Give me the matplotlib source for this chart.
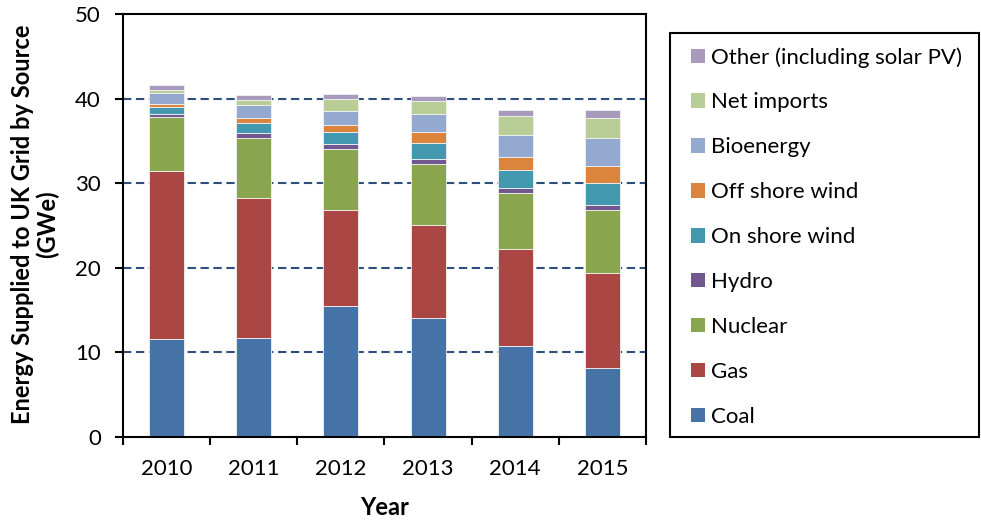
"""Stacked bar chart of UK grid supply by source, 2010-2015."""

import matplotlib.pyplot as plt
import numpy as np
from matplotlib.patches import Patch, Rectangle


YEARS = ["2010", "2011", "2012", "2013", "2014", "2015"]

COAL = [11.6, 11.7, 15.5, 14.1, 10.8, 8.2]
GAS = [19.8, 16.5, 11.3, 10.9, 11.4, 11.2]
NUCLEAR = [6.4, 7.1, 7.3, 7.3, 6.6, 7.4]
HYDRO = [0.4, 0.6, 0.55, 0.55, 0.65, 0.65]
ON_SHORE_WIND = [0.8, 1.2, 1.4, 1.9, 2.1, 2.6]
OFF_SHORE_WIND = [0.35, 0.6, 0.85, 1.3, 1.5, 2.0]
BIOENERGY = [1.3, 1.5, 1.6, 2.1, 2.6, 3.25]
NET_IMPORTS = [0.35, 0.65, 1.4, 1.6, 2.3, 2.35]
OTHER = [0.6, 0.55, 0.65, 0.6, 0.75, 1.05]

SERIES = (
    ("Coal", COAL, "#4572A7"),
    ("Gas", GAS, "#AA4643"),
    ("Nuclear", NUCLEAR, "#89A54E"),
    ("Hydro", HYDRO, "#71588F"),
    ("On shore wind", ON_SHORE_WIND, "#4198AF"),
    ("Off shore wind", OFF_SHORE_WIND, "#DB843D"),
    ("Bioenergy", BIOENERGY, "#93A9CF"),
    ("Net imports", NET_IMPORTS, "#B9CD96"),
    ("Other (including solar PV)", OTHER, "#A99BBD"),
)

WIDTH, HEIGHT = 981, 521


def main() -> None:
    plt.rcParams.update({"font.family": ["Lato", "DejaVu Sans"], "font.size": 16})
    figure = plt.figure(figsize=(WIDTH / 100, HEIGHT / 100), dpi=100)
    axis = figure.add_axes(
        (123 / WIDTH, 1 - 437 / HEIGHT, (646 - 123) / WIDTH, (437 - 14) / HEIGHT)
    )

    positions = np.arange(len(YEARS))
    bottom = np.zeros(len(YEARS))
    handles = []
    for label, values, color in SERIES:
        axis.bar(
            positions,
            values,
            width=0.4,
            bottom=bottom,
            color=color,
            edgecolor="#f2f2f2",
            linewidth=0.6,
            zorder=3,
        )
        bottom += np.array(values)
        handles.append(Patch(facecolor=color, label=label))

    axis.set_xlim(-0.5, len(YEARS) - 0.5)
    axis.set_ylim(0, 50)
    axis.set_yticks(range(0, 51, 10))
    axis.set_xticks(positions, YEARS)
    axis.set_xticks(np.arange(-0.5, len(YEARS)), minor=True)
    axis.tick_params(axis="x", which="major", length=0, pad=16, labelsize=16)
    axis.tick_params(axis="x", which="minor", length=6, width=1.5, direction="out")
    axis.tick_params(axis="y", length=6, width=1.5, pad=10, labelsize=16)
    for y in range(10, 50, 10):
        axis.axhline(
            y, color="#2E4F7E", linewidth=1.5, dashes=(4, 2.2), zorder=1
        )
    for spine in axis.spines.values():
        spine.set_linewidth(1.5)
        spine.set_zorder(4)

    axis.set_xlabel("Year", fontweight="bold", fontsize=17, labelpad=12)
    figure.text(
        35 / WIDTH,
        1 - 224 / HEIGHT,
        "Energy Supplied to UK Grid by Source\n(GWe)",
        rotation=90,
        ha="center",
        va="center",
        multialignment="center",
        fontweight="bold",
        fontsize=17,
        linespacing=1.05,
    )

    figure.patches.append(
        Rectangle(
            (670 / WIDTH, 1 - 437 / HEIGHT),
            (979 - 670) / WIDTH,
            (437 - 33) / HEIGHT,
            transform=figure.transFigure,
            fill=False,
            edgecolor="black",
            linewidth=1.5,
        )
    )
    figure.legend(
        handles=handles[::-1],
        loc="upper left",
        bbox_to_anchor=(691 / WIDTH, 1 - 47 / HEIGHT),
        frameon=False,
        fontsize=16,
        handlelength=0.62,
        handleheight=0.62,
        handletextpad=0.3,
        labelspacing=1.12,
        borderpad=0,
        borderaxespad=0,
    )

    figure.savefig("out.png", dpi=100)
    plt.close(figure)


if __name__ == "__main__":
    main()
